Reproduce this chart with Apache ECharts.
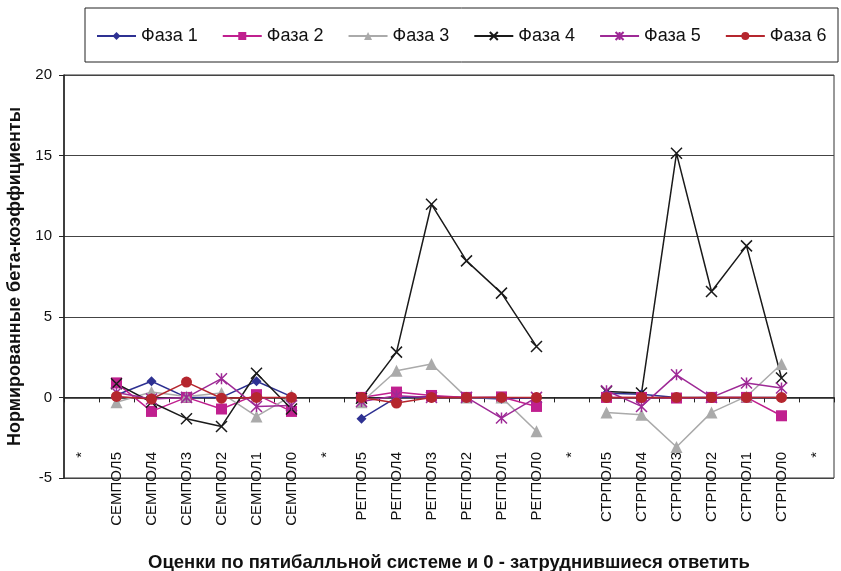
<!DOCTYPE html>
<html>
<head>
<meta charset="utf-8">
<script src="https://cdn.jsdelivr.net/npm/echarts@6/dist/echarts.min.js"></script>
<style>
html,body{margin:0;padding:0;background:#fff;}
#chart{width:841px;height:571px;}
</style>
</head>
<body>
<div id="chart"></div>
<script>
var categories = ['*','СЕМПОЛ5','СЕМПОЛ4','СЕМПОЛ3','СЕМПОЛ2','СЕМПОЛ1','СЕМПОЛ0',
                  '*','РЕГПОЛ5','РЕГПОЛ4','РЕГПОЛ3','РЕГПОЛ2','РЕГПОЛ1','РЕГПОЛ0',
                  '*','СТРПОЛ5','СТРПОЛ4','СТРПОЛ3','СТРПОЛ2','СТРПОЛ1','СТРПОЛ0','*'];
var seriesNames = ['Фаза 1','Фаза 2','Фаза 3','Фаза 4','Фаза 5','Фаза 6'];
var phase1 = [null, 0.15, 1.0, 0.0, 0.0, 1.0, 0.05, null, -1.32, 0.0, 0.05, 0.0, -0.1, 0.0, null, 0.25, 0.2, 0.0, 0.0, 0.0, 0.0, null];
var phase2 = [null, 0.9, -0.87, 0.0, -0.72, 0.17, -0.87, null, 0.0, 0.33, 0.12, 0.0, 0.03, -0.56, null, 0.0, 0.0, -0.04, 0.0, 0.0, -1.14, null];
var phase3 = [null, -0.3, 0.33, 0.05, 0.27, -1.18, 0.1, null, -0.3, 1.65, 2.07, 0.0, 0.0, -2.1, null, -0.93, -1.07, -3.08, -0.93, 0.06, 2.07, null];
var phase4 = [null, 0.85, -0.3, -1.32, -1.8, 1.5, -0.72, null, -0.05, 2.81, 11.98, 8.47, 6.47, 3.16, null, 0.37, 0.27, 15.14, 6.57, 9.4, 1.2, null];
var phase5 = [null, 0.3, -0.1, 0.0, 1.16, -0.56, -0.5, null, -0.25, 0.1, 0.0, 0.0, -1.28, 0.0, null, 0.41, -0.56, 1.4, 0.0, 0.89, 0.58, null];
var phase6 = [null, 0.06, -0.1, 0.95, -0.05, 0.0, 0.0, null, 0.0, -0.35, 0.0, 0.0, 0.0, 0.0, null, 0.0, 0.0, 0.0, 0.0, 0.0, 0.0, null];
var yTicks = { min: -5, max: 20, interval: 5 };
var xTitle = 'Оценки по пятибалльной системе и 0 - затруднившиеся ответить';
var yTitle = 'Нормированные бета-коэффициенты';

var FONT = '"Liberation Sans", Arial, sans-serif';
var colors = ['#2e3192', '#c0208f', '#aaaaaa', '#1a1a1a', '#9e2a96', '#b5262e'];
var symbols = [
  'diamond', 'rect', 'triangle',
  'path://M0,0L10,10M10,0L0,10',
  'path://M5,0L5,10M0,0L10,10M10,0L0,10',
  'circle'
];
var sizes = [10, 11, 12, 11, 11, 11];
var dataSets = [phase1, phase2, phase3, phase4, phase5, phase6];

var series = dataSets.map(function (d, i) {
  var isStroke = (i === 3 || i === 4);
  return {
    name: seriesNames[i],
    type: 'line',
    data: d,
    connectNulls: false,
    symbol: symbols[i],
    symbolSize: sizes[i],
    showSymbol: true,
    lineStyle: { color: colors[i], width: 1.5 },
    itemStyle: isStroke
      ? { color: colors[i], borderColor: colors[i], borderWidth: 1.5 }
      : { color: colors[i], borderWidth: 0 },
    emphasis: { disabled: true },
    animation: false
  };
});

var chart = echarts.init(document.getElementById('chart'), null, { renderer: 'canvas' });
chart.setOption({
  animation: false,
  color: colors,
  textStyle: { fontFamily: FONT },
  graphic: [{
    type: 'rect',
    shape: { x: 85, y: 8, width: 753, height: 54 },
    style: { fill: 'none', stroke: '#222', lineWidth: 1 },
    silent: true
  }],
  legend: {
    data: seriesNames,
    left: 96,
    top: 27,
    padding: 0,
    itemWidth: 39,
    itemHeight: 10,
    itemGap: 24,
    textStyle: { fontSize: 18, color: '#111', fontFamily: FONT }
  },
  grid: {
    left: 64, right: 7, top: 75, bottom: 93,
    show: true, borderColor: '#333', borderWidth: 1,
    containLabel: false,
    outerBoundsMode: 'none'
  },
  xAxis: {
    type: 'category',
    data: categories,
    boundaryGap: true,
    axisLine: { onZero: true, lineStyle: { color: '#222', width: 1.5 } },
    axisTick: { show: true, interval: 0, length: 5, lineStyle: { color: '#222' } },
    axisLabel: { interval: 0, rotate: 90, margin: -26, fontSize: 15, color: '#111', fontFamily: FONT },
    name: xTitle,
    nameLocation: 'middle',
    nameGap: 75,
    nameTextStyle: { fontSize: 18.5, fontWeight: 'bold', color: '#111', fontFamily: FONT },
    splitLine: { show: false }
  },
  yAxis: {
    type: 'value',
    min: yTicks.min, max: yTicks.max, interval: yTicks.interval,
    axisLine: { show: true, lineStyle: { color: '#222', width: 1.5 } },
    axisTick: { show: true, length: 5, lineStyle: { color: '#222' } },
    axisLabel: { margin: 12, fontSize: 15, color: '#111', fontFamily: FONT },
    splitLine: { show: true, lineStyle: { color: '#444', width: 1 } },
    name: yTitle,
    nameLocation: 'middle',
    nameGap: 33,
    nameTextStyle: { fontSize: 18, fontWeight: 'bold', color: '#111', fontFamily: FONT }
  },
  series: series
});
</script>
</body>
</html>
